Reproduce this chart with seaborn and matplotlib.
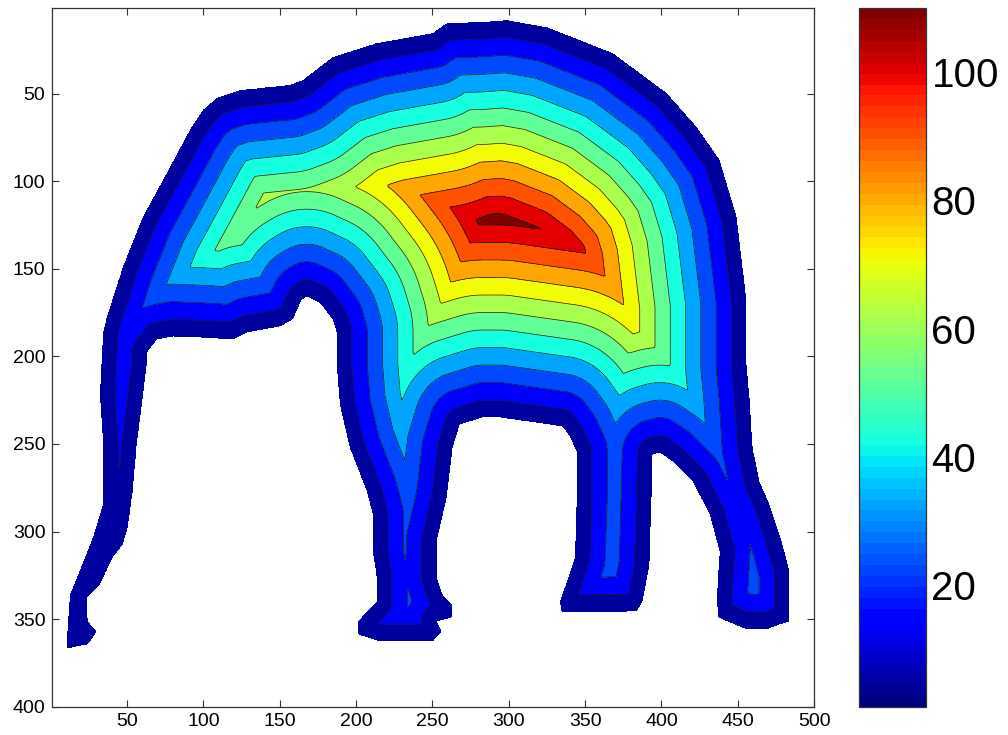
import numpy as np
import matplotlib
matplotlib.use("Agg")
import matplotlib.pyplot as plt
from matplotlib.path import Path
from matplotlib.colors import Normalize
from matplotlib.cm import ScalarMappable
import seaborn as sns

# Elephant silhouette outline (data coordinates, y grows downward)
outline_x = [259.4, 250.2, 213.5, 184.7, 165.1, 156.5, 123.8, 108.7, 99.6, 91.1,
             76.0, 60.3, 47.2, 36.7, 34.1, 32.1, 34.1, 34.1, 27.5, 17.1,
             12.5, 10.5, 10.5, 17.1, 24.3, 30.2, 24.3, 23.6, 32.1, 40.6,
             47.2, 50.5, 53.7, 56.4, 60.3, 62.9, 62.9, 69.5, 79.9, 97.6,
             119.2, 128.4, 138.9, 150.0, 158.5, 164.4, 167.7, 176.2, 184.7, 187.3,
             187.3, 189.3, 195.8, 207.0, 210.9, 210.9, 213.5, 213.5, 207.0, 201.1,
             201.1, 215.5, 250.2, 256.1, 252.8, 263.3, 263.3, 256.7, 252.8, 252.8,
             259.4, 263.3, 267.9, 282.9, 294.1, 335.3, 339.9, 344.5, 344.5, 343.2,
             338.0, 333.4, 334.7, 348.4, 383.8, 387.7, 392.3, 393.6, 394.3, 398.9,
             407.4, 420.5, 431.6, 438.1, 436.2, 437.0, 455.8, 468.9, 477.4, 484.0,
             484.0, 479.4, 470.9, 464.3, 459.8, 457.8, 455.8, 455.8, 453.2, 449.3,
             438.1, 423.1, 403.4, 368.1, 324.9, 298.7, 281.0]
outline_y = [9.7, 15.4, 21.1, 29.1, 42.2, 45.0, 47.9, 52.5, 59.3, 70.7,
             95.2, 120.3, 148.9, 177.4, 186.5, 221.9, 248.7, 284.6, 303.5, 326.3,
             336.0, 360.5, 367.3, 365.6, 364.5, 357.1, 351.4, 337.7, 330.3, 314.9,
             307.4, 297.7, 277.2, 250.4, 223.6, 204.8, 197.9, 190.5, 188.8, 189.4,
             190.5, 186.5, 184.8, 183.1, 179.1, 167.7, 166.0, 169.4, 179.1, 186.5,
             205.9, 227.6, 252.1, 277.2, 290.3, 311.4, 326.3, 340.0, 345.7, 351.4,
             358.8, 362.8, 362.8, 357.1, 351.4, 349.1, 341.7, 336.0, 326.3, 305.7,
             280.6, 252.1, 239.0, 235.0, 235.0, 240.1, 245.8, 254.4, 280.6, 314.9,
             328.6, 340.0, 346.2, 346.2, 345.7, 340.0, 318.9, 280.6, 256.1, 255.0,
             260.1, 271.5, 290.3, 311.4, 337.7, 349.1, 355.9, 355.9, 353.1, 351.4,
             322.8, 307.4, 284.6, 271.5, 252.1, 223.6, 204.8, 167.7, 148.9, 120.3,
             87.8, 69.0, 49.6, 26.8, 12.0, 8.0, 9.1]

contour_levels = [0.5, 10, 20, 30, 40, 50, 60, 70, 80, 90, 100, 110, 200]
x_ticks = [50, 100, 150, 200, 250, 300, 350, 400, 450, 500]
y_ticks = [50, 100, 150, 200, 250, 300, 350, 400]
cbar_ticks = [20, 40, 60, 80, 100]
color_limits = [1, 110]

sns.set_theme(style="white")
plt.rcParams['font.family'] = ['Liberation Sans', 'DejaVu Sans']

# distance-to-outline field on the image grid
gx = np.arange(1, 501)
gy = np.arange(1, 401)
X, Y = np.meshgrid(gx, gy)
pts = np.column_stack([X.ravel(), Y.ravel()]).astype(float)
poly = np.column_stack([outline_x, outline_y])
path = Path(np.vstack([poly, poly[:1]]), closed=True)
inside = path.contains_points(pts)
P = pts[inside]
dmin = np.full(len(P), np.inf)
A = poly
B = np.roll(poly, -1, axis=0)
for a, b in zip(A, B):
    ab = b - a
    L2 = max(ab @ ab, 1e-9)
    t = np.clip(((P - a) @ ab) / L2, 0, 1)
    proj = a + t[:, None] * ab
    dd = np.hypot(P[:, 0] - proj[:, 0], P[:, 1] - proj[:, 1])
    dmin = np.minimum(dmin, dd)
D = np.zeros(len(pts))
D[inside] = dmin
D = D.reshape(X.shape)

jet = plt.get_cmap('jet')
norm = Normalize(*color_limits)
lower = np.array(contour_levels[:-1], dtype=float)
fill_colors = [jet(0.03 + 0.97 * np.clip(norm(v), 0, 1)) for v in lower]

fig = plt.figure(figsize=(10.08, 7.35), dpi=100)
ax = fig.add_axes([0.0519, 0.0385, 0.7557, 0.951])
ax.contourf(X, Y, D, levels=contour_levels, colors=fill_colors)
ax.contour(X, Y, D, levels=contour_levels[1:-1], colors='#1a1a1a', linewidths=0.5)
ax.set_xlim(1, 500)
ax.set_ylim(400, 1)
ax.set_xticks(x_ticks)
ax.set_yticks(y_ticks)
ax.tick_params(direction='in', length=5, width=0.8, labelsize=14,
               top=True, right=True, bottom=True, left=True, colors='#333333',
               labelcolor='black')
ax.tick_params(axis='x', pad=4.5)
ax.tick_params(axis='y', pad=5)
for s in ax.spines.values():
    s.set_color('#333333')
    s.set_linewidth(0.9)
    s.set_visible(True)

cax = fig.add_axes([0.852, 0.038, 0.0665, 0.951])
sm = ScalarMappable(norm=norm, cmap=plt.get_cmap('jet', 64))
cb = fig.colorbar(sm, cax=cax, ticks=cbar_ticks)
cax.tick_params(direction='in', length=6, width=0.8, labelsize=29,
                left=True, right=True, colors='#333333', labelcolor='black', pad=4)
cb.outline.set_edgecolor('#333333')
cb.outline.set_linewidth(0.9)

fig.savefig("out.png", dpi=100)
